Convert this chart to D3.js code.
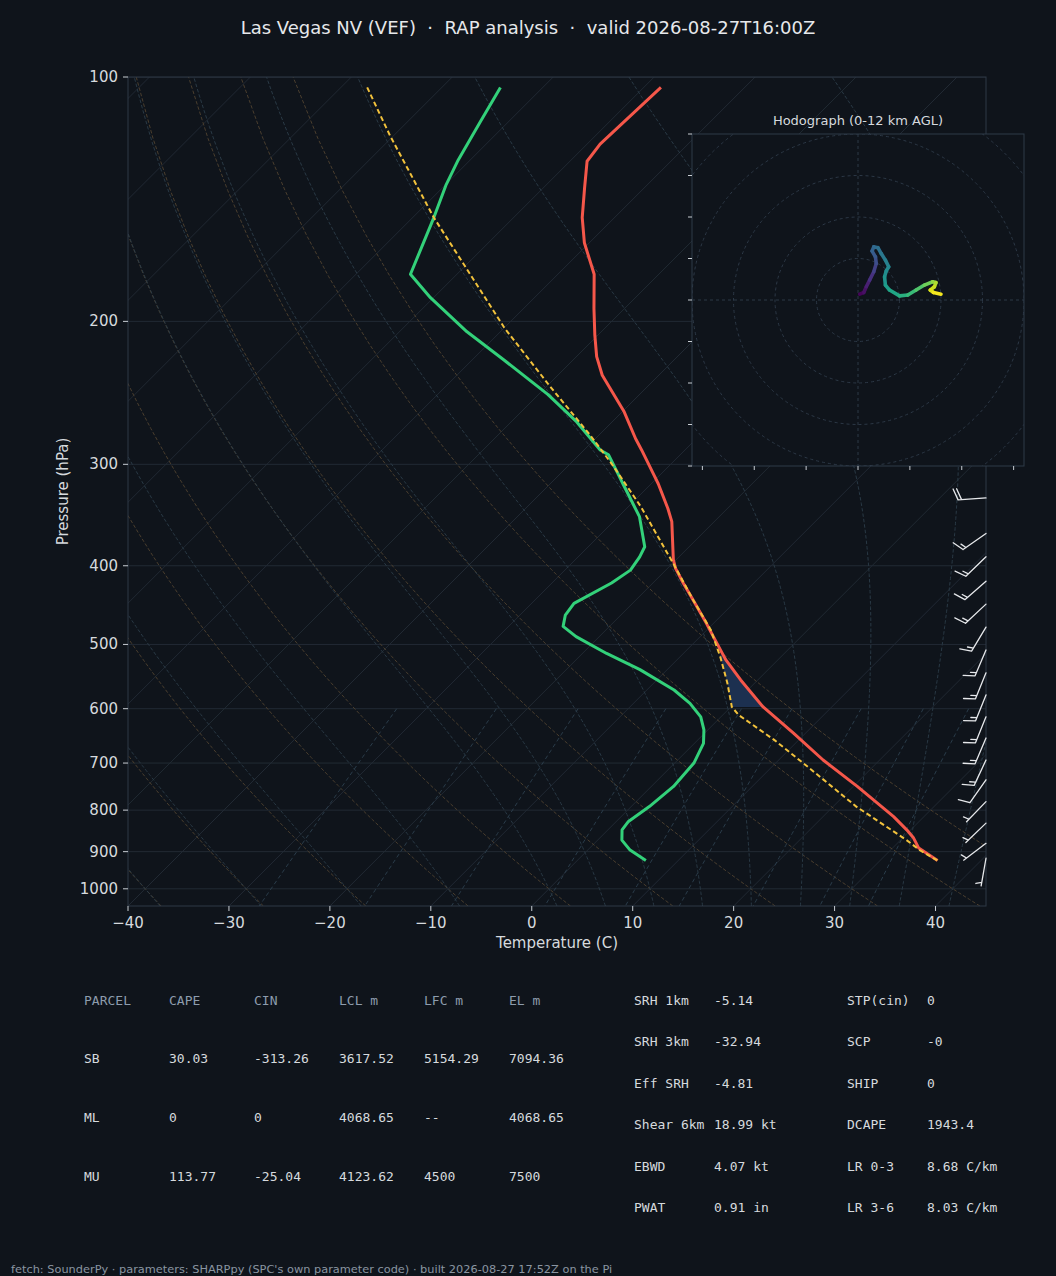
<!DOCTYPE html>
<html>
<head>
<meta charset="utf-8">
<script src="https://cdn.jsdelivr.net/npm/d3@7/dist/d3.min.js"></script>
<style>
  body { margin: 0; background: #0f141b; }
  svg { display: block; }
</style>
</head>
<body>
<script>
// ---- sounding ----
var tempP = [103, 121, 127, 137, 149, 160, 175, 193, 208, 221, 233, 258, 279, 288, 308, 317, 340, 353, 393, 403,
             420, 441, 471, 489, 522, 553, 597, 643, 694, 748, 815, 846, 866, 891, 923];
var tempC = [-68.3, -68.7, -68.3, -65.9, -63.2, -60.5, -56.4, -53.0, -50.3, -48.0, -45.6, -39.9, -36.0, -34.3, -30.8,
             -29.3, -25.9, -24.2, -20.3, -19.2, -17.0, -14.3, -10.7, -8.7, -5.2, -1.7, 3.2, 8.8, 14.4, 20.4, 27.0,
             29.6, 31.1, 32.6, 35.7];

var dewP = [103, 113.5, 126.5, 136, 149, 175, 187, 206, 223, 246, 266, 288, 292, 308, 317, 348, 379, 390, 405, 420,
            445, 460, 475, 489, 513, 537, 569, 591, 614, 637, 662, 700, 748, 792, 826, 846, 871, 896, 923];
var dewC = [-84.2, -82.8, -81.2, -79.9, -77.9, -74.6, -70.3, -63.3, -56.9, -49.1, -43.5, -38.4, -37.1, -34.3, -32.8,
            -27.9, -24.4, -23.9, -23.5, -24.1, -25.8, -25.5, -24.6, -22.3, -17.6, -12.7, -7.3, -4.4, -2.0, -0.4, 0.9,
            1.9, 2.2, 1.8, 1.2, 1.4, 2.4, 4.2, 6.8];

var parcelP = [103, 118, 149, 204, 240, 276, 300, 338, 399, 441, 480, 518, 558, 597, 611, 655, 707, 792, 871, 896, 923];
var parcelC = [-97.4, -90.4, -77.9, -59.9, -49.8, -40.9, -35.8, -28.8, -19.7, -14.3, -9.6, -6.0, -2.7, 0.1, 1.6,
               7.5, 13.5, 22.3, 30.6, 32.9, 35.7];

var cinBottomP = 597, cinTopP = 515;

// wind barbs on the right edge
var barbP   = [330, 365, 390, 418, 446, 476, 508, 542, 577, 614, 652, 694, 734, 781, 830, 879, 917];
var barbDir = [266, 235, 226, 229, 227, 211, 203, 202, 202, 202, 203, 205, 215, 224, 226, 233, 190];
var barbKt  = [20, 15, 15, 15, 15, 15, 15, 15, 15, 15, 15, 15, 10, 5, 5, 5, 5];

// hodograph trace (kt) and height AGL (km)
var hodoU = [0.4, 1.4, 2.0, 2.8, 3.8, 4.4, 4.2, 3.4, 3.8, 4.8, 5.6, 6.6, 7.4, 6.8, 6.4, 6.6, 7.6, 10.0, 12.0,
             14.0, 16.0, 18.0, 18.8, 18.4, 17.4, 18.2, 20.0];
var hodoV = [1.4, 1.8, 3.2, 4.8, 6.8, 8.8, 10.4, 11.8, 12.8, 12.6, 11.2, 9.6, 8.0, 7.0, 5.6, 3.6, 2.4, 1.0, 1.2,
             2.4, 3.6, 4.4, 4.2, 3.2, 2.4, 1.8, 1.4];
var hodoH = [0, 0.3, 0.8, 1.3, 2.0, 2.6, 3.1, 3.5, 3.9, 4.2, 4.6, 5.0, 5.4, 5.7, 6.0, 6.4, 6.8, 7.3, 7.8,
             8.4, 9.0, 9.7, 10.3, 10.8, 11.2, 11.6, 12.0];
var hodoRings = [10, 20, 30, 40, 50];
var hodoXTicks = [-37.5, -25, -12.5, 0, 12.5, 25, 37.5];
var hodoYTicks = [-40, -30, -20, -10, 0, 10, 20, 30, 40];

// axes ticks and reference lines
var pressureTicks = [100, 200, 300, 400, 500, 600, 700, 800, 900, 1000];
var tempTicks = [-40, -30, -20, -10, 0, 10, 20, 30, 40];
var dryT0 = [-40, -30, -20, -10, 0, 10, 20, 30, 40, 50];
var moistT0 = [-40, -30, -20, -10, 0, 5, 10, 15, 20, 25, 30, 35, 40, 45];
var mixingRatios = [0.0004, 0.001, 0.002, 0.004, 0.007, 0.01, 0.016, 0.024, 0.032];

// tables
var parcelHeader = ["PARCEL", "CAPE", "CIN", "LCL m", "LFC m", "EL m"];
var parcelRows = [
    ["SB", "30.03", "-313.26", "3617.52", "5154.29", "7094.36"],
    ["ML", "0", "0", "4068.65", "--", "4068.65"],
    ["MU", "113.77", "-25.04", "4123.62", "4500", "7500"]
];
var indexLeft = [["SRH 1km", "-5.14"], ["SRH 3km", "-32.94"], ["Eff SRH", "-4.81"],
                 ["Shear 6km", "18.99 kt"], ["EBWD", "4.07 kt"], ["PWAT", "0.91 in"]];
var indexRight = [["STP(cin)", "0"], ["SCP", "-0"], ["SHIP", "0"],
                  ["DCAPE", "1943.4"], ["LR 0-3", "8.68 C/km"], ["LR 3-6", "8.03 C/km"]];

var titleText = "Las Vegas NV (VEF) \u00a0\u00b7\u00a0 RAP analysis \u00a0\u00b7\u00a0 valid 2026-08-27T16:00Z";
var footText = "fetch: SounderPy \u00b7 parameters: SHARPpy (SPC's own parameter code) \u00b7 built 2026-08-27 17:52Z on the Pi";

// ---- layout ----
var W = 1056, H = 1276;
var L = 128, R = 986, T = 77, B = 906;
var sans = "DejaVu Sans, sans-serif", mono = "DejaVu Sans Mono, monospace";
var txt = "#d6dade", dim = "#8d9cad";

var x = d3.scaleLinear().domain([-40, 45]).range([L, R]);
var y = d3.scaleLog().domain([1050, 100]).range([B, T]);
var skew = 1.0;   // isotherms at 45 degrees
function sx(t, p) { return x(t) + (B - y(p)) * skew; }

var line = d3.line().x(function (d) { return sx(d[1], d[0]); }).y(function (d) { return y(d[0]); });
function pairs(ps, ts) { return ps.map(function (p, i) { return [p, ts[i]]; }); }

// thermodynamics for the background lines
var Rd = 287.04749, Lv = 2.50084e6, Cpd = 1004.6662, eps = 0.62196;
function es(tK) { return 6.112 * Math.exp(17.67 * (tK - 273.15) / (tK - 29.65)); }
function dTdp(p, tK) {
    var e = es(tK), rs = eps * e / (p - e);
    return (Rd * tK + Lv * rs) / (Cpd + Lv * Lv * rs * eps / (Rd * tK * tK)) / p;
}
function rk4(p, t, h) {
    var k1 = dTdp(p, t), k2 = dTdp(p + h / 2, t + h * k1 / 2),
        k3 = dTdp(p + h / 2, t + h * k2 / 2), k4 = dTdp(p + h, t + h * k3);
    return t + h * (k1 + 2 * k2 + 2 * k3 + k4) / 6;
}
function moistLine(t0) {
    var up = [[1000, t0 + 273.15]], down = [], p = 1000, t = t0 + 273.15, h;
    while (p > 100) { h = -Math.min(5, p - 100); t = rk4(p, t, h); p += h; up.push([p, t]); }
    p = 1000; t = t0 + 273.15;
    while (p < 1050) { h = Math.min(5, 1050 - p); t = rk4(p, t, h); p += h; down.push([p, t]); }
    return down.reverse().concat(up).map(function (d) { return [d[0], d[1] - 273.15]; });
}
function dryLine(t0) {
    return d3.range(0, 51).map(function (i) {
        var p = 1050 - i * (950 / 50);
        return [p, (t0 + 273.15) * Math.pow(p / 1000, 0.2857) - 273.15];
    });
}
function mixLine(w) {
    return d3.range(0, 31).map(function (i) {
        var p = 600 + i * 15, e = w * p / (eps + w), a = Math.log(e / 6.112);
        return [p, 243.5 * a / (17.67 - a)];
    });
}
function interpT(ps, ts, p) {
    var lp = Math.log(p);
    for (var i = 0; i < ps.length - 1; i++) {
        var a = Math.log(ps[i]), b = Math.log(ps[i + 1]);
        if (lp >= a && lp <= b) return ts[i] + (ts[i + 1] - ts[i]) * (lp - a) / (b - a);
    }
    return lp < Math.log(ps[0]) ? ts[0] : ts[ts.length - 1];
}

var svg = d3.select("body").append("svg").attr("width", W).attr("height", H)
    .style("font-family", sans);
svg.append("rect").attr("width", W).attr("height", H).attr("fill", "#0f141b");

svg.append("text").attr("x", 528).attr("y", 27).attr("text-anchor", "middle")
    .attr("dominant-baseline", "central").attr("font-size", 18).attr("fill", "#e6e8eb")
    .text(titleText);

svg.append("clipPath").attr("id", "plot").append("rect")
    .attr("x", L).attr("y", T).attr("width", R - L).attr("height", B - T);
var plot = svg.append("g").attr("clip-path", "url(#plot)");

// isotherms and isobars
plot.selectAll(".iso").data(d3.range(-120, 50, 10)).enter().append("line")
    .attr("x1", function (d) { return sx(d, 1050); }).attr("y1", B)
    .attr("x2", function (d) { return sx(d, 100); }).attr("y2", T)
    .attr("stroke", "#212933").attr("stroke-width", 1);
plot.selectAll(".bar").data(pressureTicks).enter().append("line")
    .attr("x1", L).attr("x2", R).attr("y1", y).attr("y2", y)
    .attr("stroke", "#222a34").attr("stroke-width", 1);

// dry / moist adiabats, mixing ratio lines
plot.selectAll(".dry").data(dryT0).enter().append("path")
    .attr("d", function (d) { return line(dryLine(d)); })
    .attr("fill", "none").attr("stroke", "#4a3e2e").attr("stroke-width", 1).attr("stroke-dasharray", "3.5,2");
plot.selectAll(".moist").data(moistT0).enter().append("path")
    .attr("d", function (d) { return line(moistLine(d)); })
    .attr("fill", "none").attr("stroke", "#293945").attr("stroke-width", 1).attr("stroke-dasharray", "3.5,2");
plot.selectAll(".mix").data(mixingRatios).enter().append("path")
    .attr("d", function (d) { return line(mixLine(d)); })
    .attr("fill", "none").attr("stroke", "#2a3c4a").attr("stroke-width", 1).attr("stroke-dasharray", "4,3");

// CIN shading between parcel and environment
var cinPs = d3.range(cinBottomP, cinTopP - 0.1, -2);
var cinPoly = cinPs.map(function (p) { return [p, interpT(parcelP, parcelC, p)]; })
    .concat(cinPs.slice().reverse().map(function (p) {
        return [p, Math.max(interpT(tempP, tempC, p), interpT(parcelP, parcelC, p))];
    }));
plot.append("path").attr("d", line(cinPoly) + "Z").attr("fill", "#1c3050").attr("stroke", "none");

// profiles
plot.append("path").attr("d", line(pairs(tempP, tempC)))
    .attr("fill", "none").attr("stroke", "#f5574a").attr("stroke-width", 3).attr("stroke-linejoin", "round");
plot.append("path").attr("d", line(pairs(dewP, dewC)))
    .attr("fill", "none").attr("stroke", "#33d17a").attr("stroke-width", 3).attr("stroke-linejoin", "round");
plot.append("path").attr("d", line(pairs(parcelP, parcelC)))
    .attr("fill", "none").attr("stroke", "#f2c23c").attr("stroke-width", 2).attr("stroke-dasharray", "5,3");

// frame + ticks
svg.append("rect").attr("x", L).attr("y", T).attr("width", R - L).attr("height", B - T)
    .attr("fill", "none").attr("stroke", "#2e3946").attr("stroke-width", 1);
var yt = svg.selectAll(".yt").data(pressureTicks).enter().append("g");
yt.append("line").attr("x1", L - 5).attr("x2", L).attr("y1", y).attr("y2", y).attr("stroke", "#c8cdd3");
yt.append("text").attr("x", L - 10).attr("y", y).attr("text-anchor", "end").attr("dominant-baseline", "central")
    .attr("font-size", 15).attr("fill", txt).text(function (d) { return d; });
var xt = svg.selectAll(".xt").data(tempTicks).enter().append("g");
xt.append("line").attr("x1", x).attr("x2", x).attr("y1", B).attr("y2", B + 5).attr("stroke", "#c8cdd3");
xt.append("text").attr("x", x).attr("y", B + 17).attr("text-anchor", "middle").attr("dominant-baseline", "central")
    .attr("font-size", 15).attr("fill", txt).text(function (d) { return d < 0 ? "\u2212" + (-d) : d; });
svg.append("text").attr("x", (L + R) / 2).attr("y", 943).attr("text-anchor", "middle")
    .attr("dominant-baseline", "central").attr("font-size", 15).attr("fill", txt).text("Temperature (C)");
svg.append("text").attr("transform", "translate(63," + (T + B) / 2 + ") rotate(-90)").attr("text-anchor", "middle")
    .attr("dominant-baseline", "central").attr("font-size", 15).attr("fill", txt).text("Pressure (hPa)");

// wind barbs
var barbLen = 28;
function barbPath(x0, y0, dir, spd) {
    var r = dir * Math.PI / 180, dx = Math.sin(r), dy = -Math.cos(r);
    var tx = x0 + dx * barbLen, ty = y0 + dy * barbLen, px = -dy, py = dx;
    var d = "M" + x0 + "," + y0 + "L" + tx + "," + ty;
    var n10 = Math.floor(spd / 10), n5 = Math.round((spd - n10 * 10) / 5);
    var sp = 0.125 * barbLen, fh = 0.4 * barbLen, fw = 0.15 * barbLen, pos = 0;
    for (var i = 0; i < n10; i++) {
        var bx = tx - dx * pos, by = ty - dy * pos;
        d += "M" + bx + "," + by + "L" + (bx + px * fh + dx * fw) + "," + (by + py * fh + dy * fw);
        pos += sp;
    }
    if (n5) {
        if (n10 === 0) pos += sp;
        var hx = tx - dx * pos, hy = ty - dy * pos;
        d += "M" + hx + "," + hy + "L" + (hx + px * fh / 2 + dx * fw / 2) + "," + (hy + py * fh / 2 + dy * fw / 2);
    }
    return d;
}
svg.selectAll(".barb").data(barbP).enter().append("path")
    .attr("d", function (p, i) { return barbPath(R, y(p), barbDir[i], barbKt[i]); })
    .attr("fill", "none").attr("stroke", "#e6e8eb").attr("stroke-width", 1.3).attr("stroke-linecap", "round");

// hodograph inset
var hx = d3.scaleLinear().domain([-40, 40]).range([692, 1024]);
var hy = d3.scaleLinear().domain([-40, 40]).range([466, 134]);
var hodo = svg.append("g");
hodo.append("clipPath").attr("id", "hodo").append("rect").attr("x", 692).attr("y", 134).attr("width", 332).attr("height", 332);
hodo.append("rect").attr("x", 692).attr("y", 134).attr("width", 332).attr("height", 332).attr("fill", "#0f141b");
var hg = hodo.append("g").attr("clip-path", "url(#hodo)");
hg.selectAll("circle").data(hodoRings).enter().append("circle")
    .attr("cx", hx(0)).attr("cy", hy(0)).attr("r", function (d) { return hx(d) - hx(0); })
    .attr("fill", "none").attr("stroke", "#2c3846").attr("stroke-width", 1).attr("stroke-dasharray", "3,3");
hg.append("line").attr("x1", hx(0)).attr("x2", hx(0)).attr("y1", 134).attr("y2", 466)
    .attr("stroke", "#2c3846").attr("stroke-dasharray", "3,3");
hg.append("line").attr("x1", 692).attr("x2", 1024).attr("y1", hy(0)).attr("y2", hy(0))
    .attr("stroke", "#2c3846").attr("stroke-dasharray", "3,3");
hg.selectAll(".seg").data(d3.range(hodoU.length - 1)).enter().append("line")
    .attr("x1", function (i) { return hx(hodoU[i]); }).attr("y1", function (i) { return hy(hodoV[i]); })
    .attr("x2", function (i) { return hx(hodoU[i + 1]); }).attr("y2", function (i) { return hy(hodoV[i + 1]); })
    .attr("stroke", function (i) { return d3.interpolateViridis((hodoH[i] + hodoH[i + 1]) / 24); })
    .attr("stroke-width", 3.6).attr("stroke-linecap", "round");
hodo.append("rect").attr("x", 692).attr("y", 134).attr("width", 332).attr("height", 332)
    .attr("fill", "none").attr("stroke", "#2e3a48").attr("stroke-width", 1);
hodo.selectAll(".hyt").data(hodoYTicks).enter().append("line")
    .attr("x1", 688).attr("x2", 692).attr("y1", hy).attr("y2", hy).attr("stroke", "#c8cdd3");
hodo.selectAll(".hxt").data(hodoXTicks).enter().append("line")
    .attr("x1", hx).attr("x2", hx).attr("y1", 466).attr("y2", 470).attr("stroke", "#c8cdd3");
hodo.append("text").attr("x", 858).attr("y", 120).attr("text-anchor", "middle").attr("dominant-baseline", "central")
    .attr("font-size", 13).attr("fill", txt).text("Hodograph (0-12 km AGL)");

// parcel table
var colX = [84, 169, 254, 339, 424, 509], rowY = [1000, 1058, 1117, 1176];
var tbl = svg.append("g").attr("font-family", mono).attr("font-size", 13);
tbl.selectAll(".h").data(parcelHeader).enter().append("text")
    .attr("x", function (d, i) { return colX[i]; }).attr("y", rowY[0]).attr("dominant-baseline", "central")
    .attr("fill", dim).text(function (d) { return d; });
parcelRows.forEach(function (row, r) {
    tbl.selectAll(".r" + r).data(row).enter().append("text")
        .attr("x", function (d, i) { return colX[i]; }).attr("y", rowY[r + 1]).attr("dominant-baseline", "central")
        .attr("fill", txt).text(function (d) { return d; });
});

// index table
var idxY = [1000, 1041.5, 1083, 1124.5, 1166, 1207.5];
[[indexLeft, 634, 714], [indexRight, 847, 927]].forEach(function (c) {
    c[0].forEach(function (kv, i) {
        tbl.append("text").attr("x", c[1]).attr("y", idxY[i]).attr("dominant-baseline", "central")
            .attr("fill", txt).text(kv[0]);
        tbl.append("text").attr("x", c[2]).attr("y", idxY[i]).attr("dominant-baseline", "central")
            .attr("fill", txt).text(kv[1]);
    });
});

svg.append("text").attr("x", 11).attr("y", 1269).attr("dominant-baseline", "central")
    .attr("font-size", 11.35).attr("fill", "#8a95a1").text(footText);
</script>
</body>
</html>
